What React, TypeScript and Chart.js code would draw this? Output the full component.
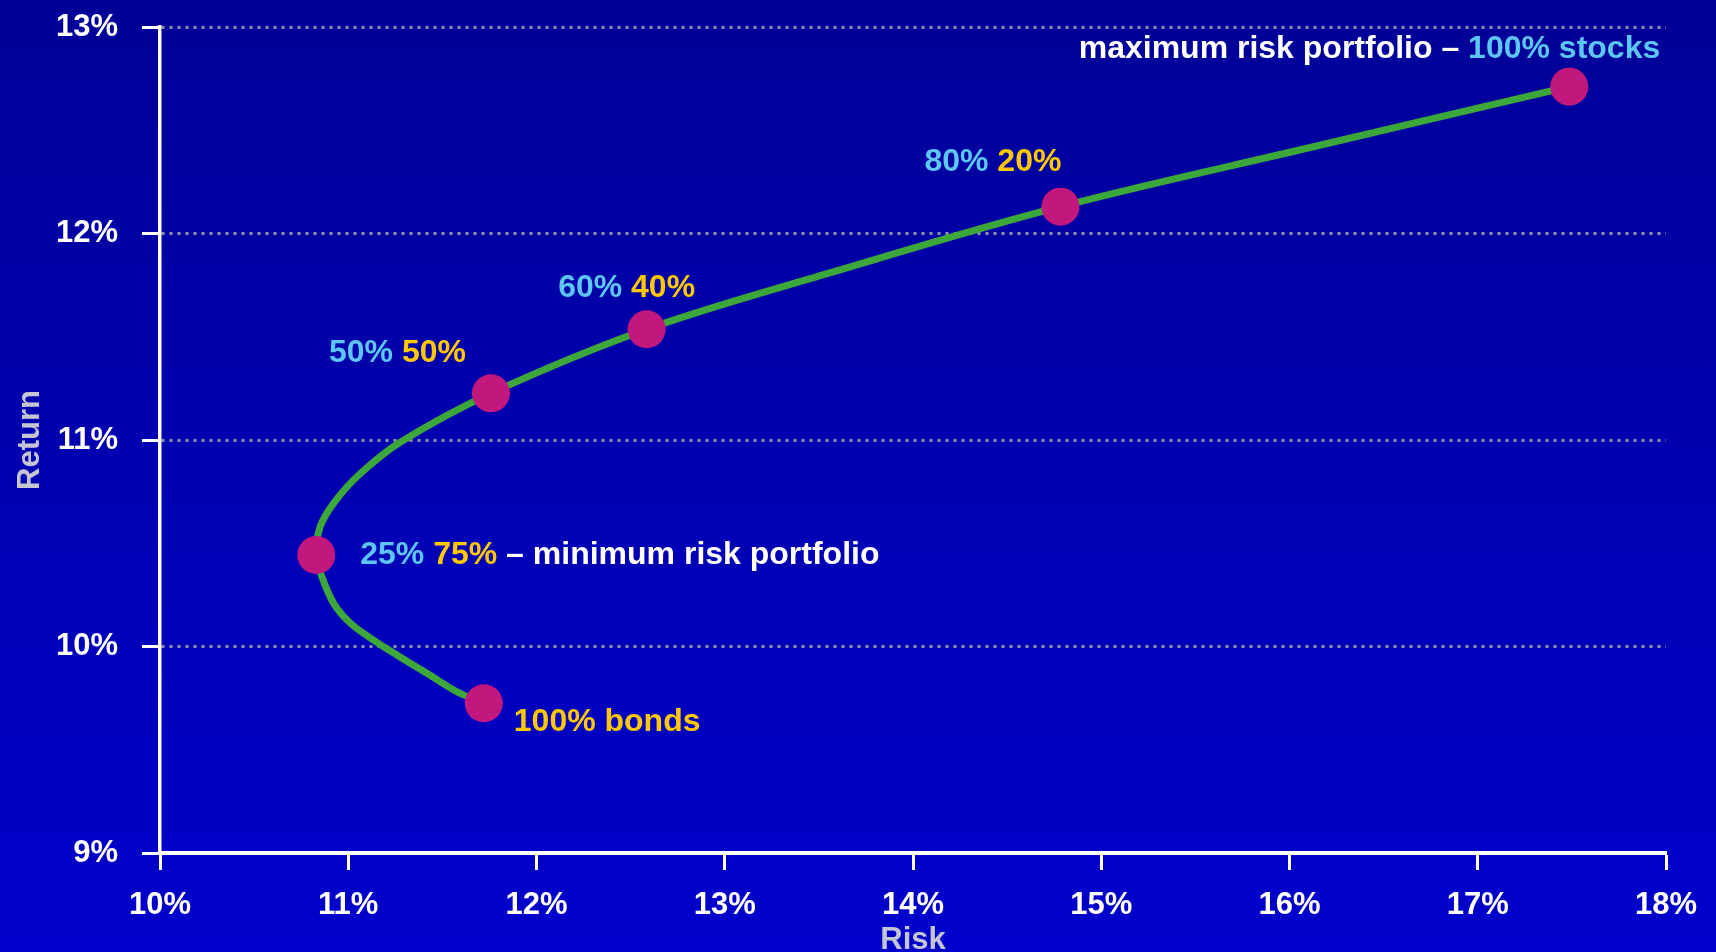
import { useEffect, useRef } from 'react';
import { Chart, registerables } from 'chart.js';

Chart.register(...registerables);

// ---- Data ----
const riskTicks = [10, 11, 12, 13, 14, 15, 16, 17, 18];
const returnTicks = [9, 10, 11, 12, 13];

const portfolioNames = ['100% bonds', '25% / 75%', '50% / 50%', '60% / 40%', '80% / 20%', '100% stocks'];
const portfolioRisk = [11.72, 10.83, 11.758, 12.585, 14.783, 17.486];
const portfolioReturn = [9.725, 10.443, 11.226, 11.536, 12.13, 12.711];

const frontierRisk = [11.72, 11.577, 11.418, 11.258, 11.134, 11.015, 10.925, 10.86, 10.83, 10.851, 10.922, 11.046, 11.276, 11.758, 12.585, 13.58, 14.783, 16.127, 17.486];
const frontierReturn = [9.725, 9.781, 9.87, 9.959, 10.031, 10.11, 10.205, 10.338, 10.443, 10.58, 10.693, 10.822, 10.989, 11.226, 11.536, 11.815, 12.13, 12.42, 12.711];

const BLUE = '#5EC6F4';
const GOLD = '#FFC800';
const WHITE = '#FFFFFF';

const labelSegments: [string, string][][] = [
  [['100% bonds', GOLD]],
  [['25% ', BLUE], ['75%', GOLD], [' – minimum risk portfolio', WHITE]],
  [['50% ', BLUE], ['50%', GOLD]],
  [['60% ', BLUE], ['40%', GOLD]],
  [['80% ', BLUE], ['20%', GOLD]],
  [['maximum risk portfolio – ', WHITE], ['100% stocks', BLUE]],
];

const FONT_FAMILY = '"Liberation Sans", Arial, Helvetica, sans-serif';
const FONT_SIZE = 31;
const LABEL_FONT_SIZE = 32;

const backgroundPlugin = {
  id: 'bgGradient',
  beforeDraw(chart: any) {
    const { ctx, width, height } = chart;
    const g = ctx.createLinearGradient(0, 0, 0, height);
    g.addColorStop(0, '#000097');
    g.addColorStop(1, '#0000CC');
    ctx.save();
    ctx.fillStyle = g;
    ctx.fillRect(0, 0, width, height);
    ctx.restore();
  },
};

// label placement relative to each portfolio point: [align, dx, dy]
const labelPlacement: [string, number, number][] = [
  ['left', 30, 16],
  ['left', 44, -2],
  ['right', -25, -43],
  ['center', -20, -44],
  ['right', 1, -47],
  ['right', 91, -40],
];

const labelsPlugin = {
  id: 'portfolioLabels',
  afterDatasetsDraw(chart: any) {
    const { ctx, scales } = chart;
    ctx.save();
    ctx.font = `bold ${LABEL_FONT_SIZE}px ${FONT_FAMILY}`;
    ctx.textBaseline = 'alphabetic';
    ctx.textAlign = 'left';
    const cap = LABEL_FONT_SIZE * 0.716;
    portfolioRisk.forEach((r, i) => {
      const px = scales.x.getPixelForValue(r);
      const py = scales.y.getPixelForValue(portfolioReturn[i]);
      const segs = labelSegments[i];
      const [align, dx, dy] = labelPlacement[i];
      const total = segs.reduce((s, [t]) => s + ctx.measureText(t).width, 0);
      let x = px + dx;
      if (align === 'right') x -= total;
      else if (align === 'center') x -= total / 2;
      const y = py + dy + cap / 2;
      segs.forEach(([t, c]) => {
        ctx.fillStyle = c;
        ctx.fillText(t, x, y);
        x += ctx.measureText(t).width;
      });
    });
    ctx.restore();
  },
};

export default function App() {
  const canvasRef = useRef<HTMLCanvasElement | null>(null);

  useEffect(() => {
    document.body.style.margin = '0';
    const canvas = canvasRef.current;
    if (!canvas) return;
    const tickFont = { family: FONT_FAMILY, size: FONT_SIZE, weight: 'bold' as const };
    const chart = new Chart(canvas, {
      type: 'scatter',
      data: {
        datasets: [
          {
            label: 'Portfolios',
            data: portfolioRisk.map((x, i) => ({ x, y: portfolioReturn[i], name: portfolioNames[i] })),
            pointRadius: 19,
            pointHoverRadius: 19,
            pointBackgroundColor: '#C2187E',
            pointBorderWidth: 0,
            showLine: false,
            order: 0,
          },
          {
            label: 'Efficient frontier',
            data: frontierRisk.map((x, i) => ({ x, y: frontierReturn[i] })),
            showLine: true,
            borderColor: '#3CA83B',
            borderWidth: 7,
            tension: 0.35,
            pointRadius: 0,
            pointHoverRadius: 0,
            fill: false,
            order: 1,
          },
        ],
      },
      options: {
        responsive: false,
        animation: false,
        events: [],
        layout: { padding: { top: 27, right: 50, left: 0, bottom: 0 } },
        plugins: {
          legend: { display: false },
          tooltip: { enabled: false },
        },
        scales: {
          x: {
            type: 'linear',
            min: 10,
            max: 18,
            afterBuildTicks: (scale: any) => {
              scale.ticks = riskTicks.map((v) => ({ value: v }));
            },
            afterFit: (scale: any) => {
              scale.height = 99;
              scale.paddingLeft = 0;
              scale.paddingRight = 0;
            },
            ticks: {
              autoSkip: false,
              maxRotation: 0,
              color: WHITE,
              font: tickFont,
              padding: 17,
              callback: (v: any) => `${v}%`,
            },
            grid: {
              drawOnChartArea: false,
              drawTicks: true,
              tickLength: 17,
              tickColor: WHITE,
              tickWidth: 3,
            },
            border: { display: true, color: WHITE, width: 4 },
            title: {
              display: true,
              text: 'Risk',
              color: '#C4C4D2',
              font: { family: FONT_FAMILY, size: FONT_SIZE, weight: 'bold', lineHeight: 1 },
              padding: { top: 0, bottom: -4 },
            },
          },
          y: {
            type: 'linear',
            min: 9,
            max: 13,
            afterBuildTicks: (scale: any) => {
              scale.ticks = returnTicks.map((v) => ({ value: v }));
            },
            afterFit: (scale: any) => {
              scale.width = 160;
              scale.paddingTop = 0;
              scale.paddingBottom = 0;
            },
            ticks: {
              autoSkip: false,
              color: WHITE,
              font: tickFont,
              padding: 24,
              callback: (v: any) => `${v}%`,
            },
            grid: {
              color: '#9292AA',
              lineWidth: 3,
              drawOnChartArea: true,
              drawTicks: true,
              tickLength: 18,
              tickColor: WHITE,
              tickWidth: 3,
            },
            border: { display: true, color: WHITE, width: 3.5, dash: [3, 5] },
            title: {
              display: true,
              text: 'Return',
              color: '#C4C4D2',
              font: { family: FONT_FAMILY, size: FONT_SIZE, weight: 'bold', lineHeight: 1 },
              padding: { top: 15, bottom: 0 },
            },
          },
        },
      },
      plugins: [backgroundPlugin, labelsPlugin],
    });
    return () => chart.destroy();
  }, []);

  return (
    <div style={{ width: 1716, height: 952 }}>
      <canvas ref={canvasRef} width={1716} height={952} style={{ display: 'block' }} />
    </div>
  );
}
